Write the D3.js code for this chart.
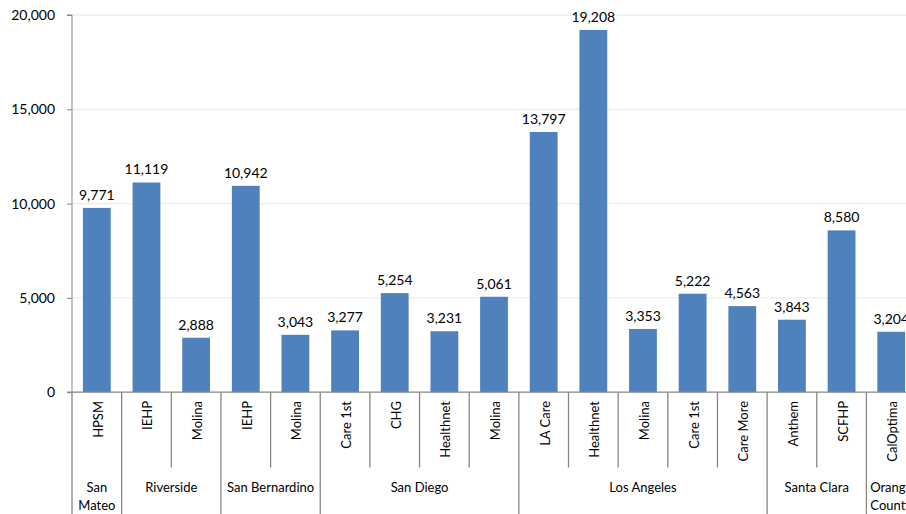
<!DOCTYPE html>
<html>
<head>
<meta charset="utf-8">
<script src="https://cdn.jsdelivr.net/npm/d3@7"></script>
<style>
  body { margin: 0; background: #fff; }
  svg { display: block; font-family: Lato, "Noto Sans", sans-serif; }
</style>
</head>
<body>
<script>
// data
const counties = ['San Mateo', 'Riverside', 'San Bernardino', 'San Diego', 'Los Angeles', 'Santa Clara', 'Orange County'];
const plans = ['HPSM', 'IEHP', 'Molina', 'IEHP', 'Molina', 'Care 1st', 'CHG', 'Healthnet', 'Molina',
  'LA Care', 'Healthnet', 'Molina', 'Care 1st', 'Care More', 'Anthem', 'SCFHP', 'CalOptima'];
const planCounty = [0, 1, 1, 2, 2, 3, 3, 3, 3, 4, 4, 4, 4, 4, 5, 5, 6];
const enrollment = [9771, 11119, 2888, 10942, 3043, 3277, 5254, 3231, 5061,
  13797, 19208, 3353, 5222, 4563, 3843, 8580, 3204];
const yTicks = [0, 5000, 10000, 15000, 20000];

const width = 906;
const height = 514;
const left = 72;
const bandW = 49.65;
const axisY = 392.2;
const topY = 15;
const axisColor = '#868686';

const svg = d3.select('body').append('svg')
    .attr('width', width)
    .attr('height', height);

const x = d3.scaleBand()
    .domain(d3.range(plans.length))
    .range([left, left + bandW * plans.length])
    .paddingInner(0.44)
    .paddingOuter(0.22);

const y = d3.scaleLinear()
    .domain([0, 20000])
    .range([axisY, topY]);

const fmt = d3.format(',');

// gridlines
svg.append('g')
  .selectAll('line')
  .data(yTicks.filter(d => d > 0))
  .enter().append('line')
    .attr('x1', left)
    .attr('x2', width)
    .attr('y1', d => y(d))
    .attr('y2', d => y(d))
    .attr('stroke', '#ececec')
    .attr('stroke-width', 1.3);

// y axis
const yAxis = svg.append('g')
    .attr('transform', `translate(${left},0)`)
    .call(d3.axisLeft(y).tickValues(yTicks).tickFormat(fmt).tickSize(5).tickPadding(12));
yAxis.select('.domain').attr('stroke', axisColor).attr('d', `M-5,${topY}H0V${axisY}`);
yAxis.selectAll('.tick line').attr('stroke', axisColor);
yAxis.selectAll('.tick text')
    .attr('font-size', 14)
    .attr('font-family', 'Lato, "Noto Sans", sans-serif')
    .attr('fill', '#000');

// bars
svg.append('g')
  .selectAll('rect')
  .data(enrollment)
  .enter().append('rect')
    .attr('x', (d, i) => x(i))
    .attr('width', x.bandwidth())
    .attr('y', d => y(d))
    .attr('height', d => y(0) - y(d))
    .attr('fill', '#4f81bd');

// value labels
svg.append('g')
  .selectAll('text')
  .data(enrollment)
  .enter().append('text')
    .attr('x', (d, i) => x(i) + x.bandwidth() / 2)
    .attr('y', d => y(d) - 8)
    .attr('text-anchor', 'middle')
    .attr('font-size', 14)
    .text(d => fmt(d));

// x axis line
svg.append('line')
    .attr('x1', left - 5)
    .attr('x2', width)
    .attr('y1', axisY)
    .attr('y2', axisY)
    .attr('stroke', axisColor)
    .attr('stroke-width', 1.3);

// separators: inner ones short, county boundaries to the bottom
const step = x.step();
const x0 = left;
const seps = d3.range(plans.length + 1).map(i => ({
  i,
  major: i === 0 || i === plans.length || planCounty[i] !== planCounty[i - 1]
}));
svg.append('g')
  .selectAll('line')
  .data(seps)
  .enter().append('line')
    .attr('x1', d => x0 + d.i * step)
    .attr('x2', d => x0 + d.i * step)
    .attr('y1', axisY)
    .attr('y2', d => d.major ? height : 467.5)
    .attr('stroke', axisColor)
    .attr('stroke-width', 1.3);

// plan labels (rotated)
svg.append('g')
  .selectAll('text')
  .data(plans)
  .enter().append('text')
    .attr('transform', (d, i) => `translate(${x(i) + x.bandwidth() / 2 + 1},401) rotate(-90)`)
    .attr('text-anchor', 'end')
    .attr('dominant-baseline', 'central')
    .attr('font-size', 13)
    .text(d => d);

// county labels
const countyRanges = counties.map((c, k) => {
  const idx = d3.range(plans.length).filter(i => planCounty[i] === k);
  return { name: c, start: x0 + idx[0] * step, end: x0 + (idx[idx.length - 1] + 1) * step };
});

const countyText = svg.append('g')
  .selectAll('text')
  .data(countyRanges)
  .enter().append('text')
    .attr('x', d => (d.start + d.end) / 2)
    .attr('y', 491.5)
    .attr('text-anchor', 'middle')
    .attr('font-size', 13)
    .text(d => d.name);

// wrap names wider than their slot
countyText.each(function (d) {
  const t = d3.select(this);
  if (this.getComputedTextLength() > d.end - d.start - 6) {
    const words = d.name.split(' ');
    t.text(null);
    words.forEach((w, j) => {
      t.append('tspan')
        .attr('x', (d.start + d.end) / 2)
        .attr('y', 491.5 + j * 18)
        .text(w);
    });
  }
});
</script>
</body>
</html>
